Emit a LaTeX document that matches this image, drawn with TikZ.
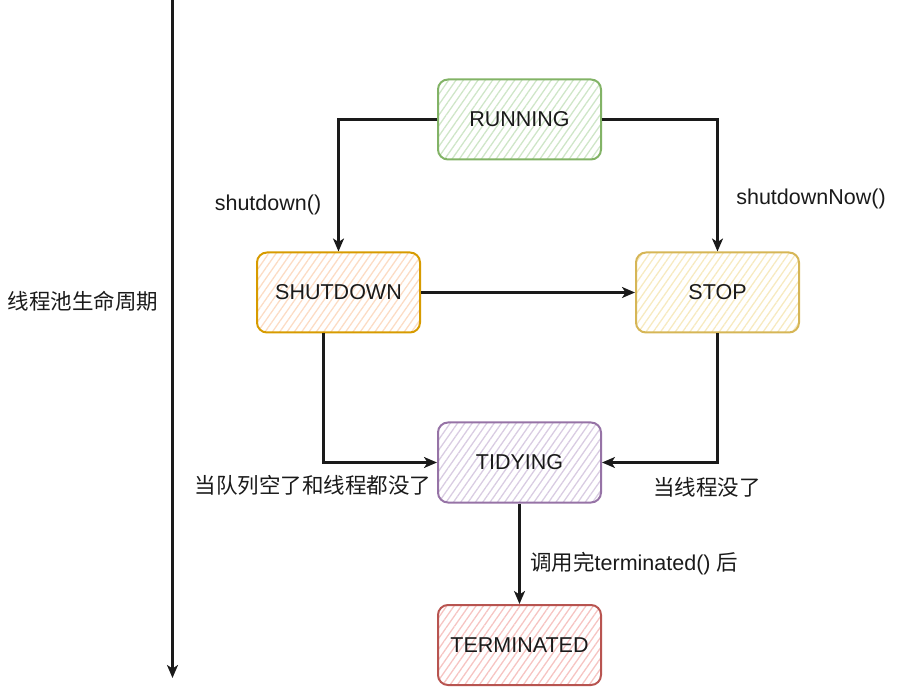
\documentclass[tikz,border=0pt]{standalone}
\usepackage{fontspec}
\setmainfont{Liberation Sans}
\newfontfamily\cjk{Noto Sans CJK SC}
\usetikzlibrary{arrows.meta,patterns.meta}
\definecolor{gS}{HTML}{82B366}\definecolor{gF}{HTML}{CFE6C8}
\definecolor{oS}{HTML}{D79B00}\definecolor{oF}{HTML}{FCDCC4}
\definecolor{yS}{HTML}{D6B656}\definecolor{yF}{HTML}{F7EAC0}
\definecolor{pS}{HTML}{9673A6}\definecolor{pF}{HTML}{D9CCE2}
\definecolor{rS}{HTML}{B85450}\definecolor{rF}{HTML}{F6C4C2}
\definecolor{ink}{HTML}{1A1A1A}
\tikzset{
  state/.style n args={2}{draw=#1, line width=2pt, rounded corners=10pt,
    minimum width=163pt, minimum height=80pt, inner sep=0pt,
    pattern={Lines[angle=55,distance=6pt,line width=1.3pt]}, pattern color=#2,
    font=\fontsize{21.5}{25}\selectfont, text=ink},
  conn/.style={draw=ink, line width=2.1pt, -{Stealth[length=13pt,width=11pt,inset=3.5pt]}},
  lbl/.style={font=\fontsize{21.5}{25}\selectfont, text=ink, inner sep=0pt},
  clbl/.style={font=\cjk\fontsize{21.5}{25}\selectfont, text=ink, inner sep=0pt},
}
\begin{document}
\begin{tikzpicture}[x=1pt,y=-1pt]
\useasboundingbox (0,0) rectangle (908,700);
% timeline
\coordinate (t0) at (172.5,0);
\coordinate (t1) at (172.5,678);
\draw[conn] (t0) -- (t1);
\node[clbl] (life) at (83,301) {线程池生命周期};
% states
\node[state={gS}{gF}] (run) at (519.5,119.5) {RUNNING};
\node[state={oS}{oF}] (shut) at (338.5,292.5) {SHUTDOWN};
\node[state={yS}{yF}] (stop) at (717.5,292.5) {STOP};
\node[state={pS}{pF}] (tidy) at (519.5,462.5) {TIDYING};
\node[state={rS}{rF}] (term) at (519.5,645) {TERMINATED};
% connectors
\draw[conn] (run.west) -| (shut.north);
\node[lbl] (l1) at (268,205) {shutdown()};
\draw[conn] (run.east) -| (stop.north);
\node[lbl] (l2) at (811,199) {shutdownNow()};
\draw[conn] (shut.east) -- (stop.west);
\coordinate (sb) at (323.5,333);
\draw[conn] (sb) |- (tidy.west);
\node[clbl] (l3) at (313,485) {当队列空了和线程都没了};
\draw[conn] (stop.south) |- (tidy.east);
\node[clbl] (l4) at (707,487) {当线程没了};
\draw[conn] (tidy.south) -- (term.north);
\node[lbl, anchor=west] (l5) at (530,564) {\cjk 调用完\rmfamily terminated() \cjk 后};
\end{tikzpicture}
\end{document}
